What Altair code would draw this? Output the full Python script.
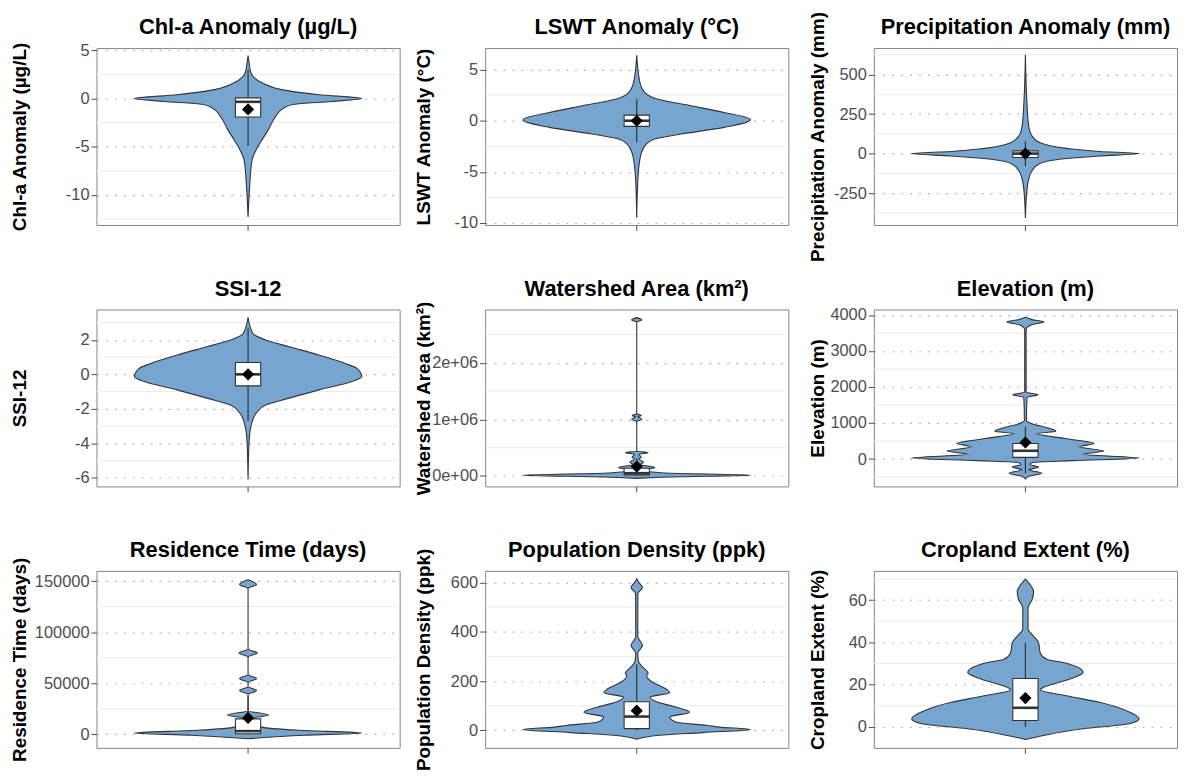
import altair as alt
import pandas as pd

FONT = "Liberation Sans"
VIOLIN_FILL = "#76A6CF"
OUTLINE = "#333333"
VIOLIN_WIDTH = 0.9
BOX_WIDTH = 0.1
PANEL_W = 305
PANEL_H = 178

TITLES = [
    "Chl-a Anomaly (µg/L)", "LSWT Anomaly (°C)", "Precipitation Anomaly (mm)",
    "SSI-12", "Watershed Area (km²)", "Elevation (m)",
    "Residence Time (days)", "Population Density (ppk)", "Cropland Extent (%)",
]

# ---- violin outlines: value and relative half-width (max = 1)
CHLA_VAL = [-12.3, -9.1, -6.4, -5.3, -4.3, -3.2, -1.8, -0.95, -0.6, -0.3, 0.0, 0.4, 0.85, 1.6, 2.3, 2.9, 3.5, 4.45]
CHLA_DEN = [0, .014, .035, .072, .122, .18, .246, .319, .406, .739, 1.0, .623, .333, .13, .043, .02, .012, 0]

LSWT_VAL = [-9.5, -6.0, -4.4, -3.1, -2.27, -1.78, -1.3, -0.65, 0.1, 0.81, 1.46, 2.1, 2.76, 3.7, 6.4]
LSWT_DEN = [0, .009, .02, .043, .087, .159, .391, .768, 1.0, .768, .478, .188, .072, .029, 0]

PREC_VAL = [-408, -224, -161, -109, -67, -36, -15, 0, 13, 33, 69, 111, 174, 341, 625]
PREC_DEN = [0, .014, .029, .058, .115, .30, .65, 1.0, .65, .36, .13, .058, .029, .012, 0]

SSI_VAL = [-6.1, -3.88, -2.92, -2.25, -1.77, -1.38, -0.9, -0.42, -0.13, 0.35, 0.63, 1.12, 1.6, 1.98, 2.37, 3.31]
SSI_DEN = [0, .009, .029, .072, .159, .362, .623, .913, 1.0, .957, .855, .623, .362, .159, .043, 0]

WSA_VAL = [-45000, -20000, 10000, 50000, 100000, 150000, 200000, 240000, 300000, 330000, 380000,
           410000, 440000, 960000, 1000000, 1045000, 1070000, 1100000, 2720000, 2760000, 2800000]
WSA_DEN = [0, .3, 1.0, .25, .06, .16, .03, .06, .02, .04, .02, .1, 0, 0, .045, .01, .04, 0, 0, .045, 0]

ELEV_VAL = [-550, -480, -394, -300, -220, -160, -92, -45, 28, 130, 220, 340, 431, 569, 706, 771,
            860, 982, 1073, 1716, 1789, 1853, 3596, 3734, 3807, 3872, 3936]
ELEV_DEN = [0, .03, .144, .03, .115, .04, .07, .42, 1.0, .5, .69, .475, .605, .35, .1, .268,
            .2, .058, .009, .014, .11, .006, .006, .058, .164, .058, 0]

RES_VAL = [-4200, -800, 1300, 4000, 7100, 11900, 16100, 19000, 23200, 39000, 42900, 46800,
           50600, 54800, 58700, 75800, 79700, 83500, 142600, 146800, 151300]
RES_DEN = [0, .5, 1.0, .45, .12, .06, .05, .18, 0, 0, .075, 0, 0, .075, 0, 0, .08, 0, 0, .075, 0]

POP_VAL = [-36, -20, -9, 4, 13, 20, 33, 54, 74, 94, 116, 134, 154, 167, 194, 221, 231, 261, 281,
           314, 344, 381, 555, 580, 602, 615]
POP_DEN = [0, .2, .58, 1.0, .725, .62, .348, .29, .464, .348, .174, .116, .29, .26, .145, .087,
           .1, .043, .015, .009, .05, .009, .01, .05, .015, 0]

CROP_VAL = [-6, -4.1, -0.9, 1.4, 3.8, 7.7, 11.6, 14.7, 17.6, 18.7, 22.6, 25.7, 30.1, 32, 35.1,
            39.8, 43.8, 46.1, 56.3, 60.2, 64.2, 67.3, 70]
CROP_DEN = [0, .159, .507, .913, 1.0, .884, .652, .362, .13, .159, .391, .507, .362, .188, .13,
            .116, .058, .023, .023, .058, .072, .043, 0]

# ---- box statistics: lower whisker, Q1, median, Q3, upper whisker, mean
CHLA_BOX = [-4.9, -1.92, -0.34, 0.07, 3.0, -1.13]
LSWT_BOX = [-2.1, -0.55, 0.0, 0.55, 2.1, 0.0]
PREC_BOX = [-80, -25, 0, 17, 80, 0]
SSI_BOX = [-2.7, -0.67, 0.0, 0.69, 2.7, 0.0]
WSA_BOX = [0, 18000, 47000, 135000, 310000, 164000]
ELEV_BOX = [-394, 46, 229, 431, 900, 459]
RES_BOX = [0, 650, 3200, 15160, 37000, 16100]
POP_BOX = [0, 7, 56, 116, 268, 80]
CROP_BOX = [0, 3, 9, 22.9, 39.8, 13.6]

# ---- y axes: domain, major ticks, tick labels, minor grid
CHLA_DOM, CHLA_TICKS, CHLA_LAB, CHLA_MINOR = [-13.12, 5.24], [-10, -5, 0, 5], ["-10", "-5", "0", "5"], [-12.5, -7.5, -2.5, 2.5]
LSWT_DOM, LSWT_TICKS, LSWT_LAB, LSWT_MINOR = [-10.2, 7.11], [-10, -5, 0, 5], ["-10", "-5", "0", "5"], [-7.5, -2.5, 2.5]
PREC_DOM, PREC_TICKS, PREC_LAB, PREC_MINOR = [-452, 668], [-250, 0, 250, 500], ["-250", "0", "250", "500"], [-375, -125, 125, 375, 625]
SSI_DOM, SSI_TICKS, SSI_LAB, SSI_MINOR = [-6.5, 3.76], [-6, -4, -2, 0, 2], ["-6", "-4", "-2", "0", "2"], [-5, -3, -1, 1, 3]
WSA_DOM, WSA_TICKS, WSA_LAB, WSA_MINOR = [-187000, 2944000], [0, 1000000, 2000000], ["0e+00", "1e+06", "2e+06"], [500000, 1500000, 2500000]
ELEV_DOM, ELEV_TICKS, ELEV_LAB, ELEV_MINOR = [-761, 4154], [0, 1000, 2000, 3000, 4000], ["0", "1000", "2000", "3000", "4000"], [-500, 500, 1500, 2500, 3500]
RES_DOM, RES_TICKS, RES_LAB, RES_MINOR = [-13200, 160000], [0, 50000, 100000, 150000], ["0", "50000", "100000", "150000"], [25000, 75000, 125000]
POP_DOM, POP_TICKS, POP_LAB, POP_MINOR = [-71, 647], [0, 200, 400, 600], ["0", "200", "400", "600"], [100, 300, 500]
CROP_DOM, CROP_TICKS, CROP_LAB, CROP_MINOR = [-10, 73.9], [0, 20, 40, 60], ["0", "20", "40", "60"], [10, 30, 50, 70]

# y-axis title offset (px from the plot's left edge) per column
TITLE_X = [-77, -62, -57]

PANELS = [
    (CHLA_VAL, CHLA_DEN, CHLA_BOX, CHLA_DOM, CHLA_TICKS, CHLA_LAB, CHLA_MINOR),
    (LSWT_VAL, LSWT_DEN, LSWT_BOX, LSWT_DOM, LSWT_TICKS, LSWT_LAB, LSWT_MINOR),
    (PREC_VAL, PREC_DEN, PREC_BOX, PREC_DOM, PREC_TICKS, PREC_LAB, PREC_MINOR),
    (SSI_VAL, SSI_DEN, SSI_BOX, SSI_DOM, SSI_TICKS, SSI_LAB, SSI_MINOR),
    (WSA_VAL, WSA_DEN, WSA_BOX, WSA_DOM, WSA_TICKS, WSA_LAB, WSA_MINOR),
    (ELEV_VAL, ELEV_DEN, ELEV_BOX, ELEV_DOM, ELEV_TICKS, ELEV_LAB, ELEV_MINOR),
    (RES_VAL, RES_DEN, RES_BOX, RES_DOM, RES_TICKS, RES_LAB, RES_MINOR),
    (POP_VAL, POP_DEN, POP_BOX, POP_DOM, POP_TICKS, POP_LAB, POP_MINOR),
    (CROP_VAL, CROP_DEN, CROP_BOX, CROP_DOM, CROP_TICKS, CROP_LAB, CROP_MINOR),
]


def label_expr(ticks, labels):
    expr = "''"
    for t, l in reversed(list(zip(ticks, labels))):
        expr = f"datum.value == {t} ? '{l}' : {expr}"
    return expr


def panel(idx):
    vals, dens, box, dom, ticks, labs, minor = PANELS[idx]
    title = TITLES[idx]
    ys = alt.Scale(domain=dom, nice=False, zero=False)
    xs = alt.Scale(domain=[0.4, 1.6], nice=False, zero=False)
    yaxis = alt.Axis(values=ticks, labelExpr=label_expr(ticks, labs), title=title,
                     titleX=TITLE_X[idx % 3], titleBaseline="middle", grid=True)
    xaxis = alt.Axis(values=[1], labels=False, title=None, grid=False, domain=False)

    def Y(f="y"):
        return alt.Y(f"{f}:Q", scale=ys, axis=yaxis)

    def X(f):
        return alt.X(f"{f}:Q", scale=xs, axis=xaxis)

    half = VIOLIN_WIDTH / 2
    bh = BOX_WIDTH / 2

    minor_l = alt.Chart(pd.DataFrame({"y": minor})).mark_rule(
        color="#ebebeb", strokeWidth=1).encode(y=Y())

    vdf = pd.DataFrame({"y": vals, "d": dens})
    violin = alt.Chart(vdf).transform_calculate(
        xl=f"1 - {half} * datum.d", xr=f"1 + {half} * datum.d"
    ).mark_area(orient="horizontal", interpolate="monotone", fill=VIOLIN_FILL,
                stroke=OUTLINE, strokeWidth=1.1).encode(y=Y(), x=X("xl"), x2="xr:Q")

    lo, q1, med, q3, hi, mean = box
    whisk = alt.Chart(pd.DataFrame({"x": [1.0], "y": [lo], "y2": [hi]})).mark_rule(
        color=OUTLINE, strokeWidth=1.2).encode(x=X("x"), y=Y(), y2="y2:Q")
    boxl = alt.Chart(pd.DataFrame({"xl": [1 - bh], "xr": [1 + bh], "y": [q1], "y2": [q3]})).mark_rect(
        fill="white", stroke=OUTLINE, strokeWidth=1.1).encode(x=X("xl"), x2="xr:Q", y=Y(), y2="y2:Q")
    medl = alt.Chart(pd.DataFrame({"xl": [1 - bh], "xr": [1 + bh], "y": [med]})).mark_rule(
        color=OUTLINE, strokeWidth=2.6).encode(x=X("xl"), x2="xr:Q", y=Y())
    meanl = alt.Chart(pd.DataFrame({"x": [1.0], "y": [mean]})).mark_point(
        shape="diamond", filled=True, fill="black", opacity=1, size=150, strokeWidth=0).encode(
        x=X("x"), y=Y())
    head = alt.Chart(pd.DataFrame({"t": [title]})).mark_text(
        font=FONT, fontSize=22, fontWeight="bold", color="black", align="center",
        baseline="middle").encode(text="t:N", x=alt.value(PANEL_W / 2), y=alt.value(-21))

    return alt.layer(minor_l, violin, whisk, boxl, medl, meanl, head).properties(
        width=PANEL_W, height=PANEL_H)


chart = alt.ConcatChart(
    concat=[panel(i) for i in range(9)],
    columns=3,
    spacing={"row": 85, "column": 86},
    bounds="flush",
).properties(
    padding={"left": 2, "top": 0, "right": 0, "bottom": 0},
    background="white",
).configure(font=FONT).configure_view(
    stroke="#858585", strokeWidth=1
).configure_axis(
    labelFont=FONT, labelFontSize=16.5, labelColor="#4d4d4d", labelPadding=2,
    tickColor="#4d4d4d", tickSize=5.5, tickWidth=1,
    titleFont=FONT, titleFontSize=19, titleFontWeight="bold", titleColor="black",
    gridColor="#b5b5b5", gridDash=[2, 7], gridWidth=1.2, domain=False,
)

chart.save("out.html", embed_options={"renderer": "svg", "actions": False})
